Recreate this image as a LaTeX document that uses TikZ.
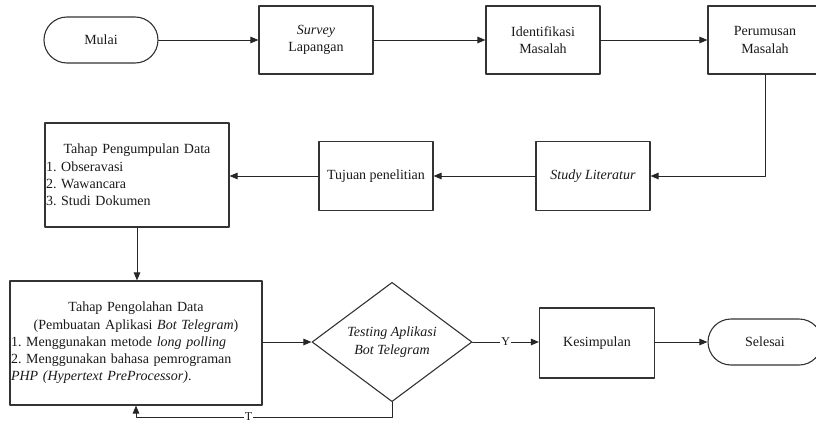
\documentclass[tikz,border=0pt]{standalone}
\usepackage{fontspec}
\setmainfont{Liberation Serif}
\usetikzlibrary{arrows.meta,shapes.geometric}
\frenchspacing

\begin{document}
\begin{tikzpicture}[x=1pt,y=-1pt,line cap=round,line join=round,>={Triangle[length=8pt,width=6.5pt]},
  every node/.style={font=\fontsize{14}{17.3}\selectfont,text=black!90},
  proc/.style={draw=black!80,line width=1.1pt,rectangle,inner sep=1pt,align=center},
  term/.style={draw=black!80,line width=1.1pt,rectangle,rounded corners=23pt,minimum width=114pt,minimum height=46pt},
  decision/.style={draw=black!80,line width=1.1pt,diamond,minimum width=160pt,minimum height=96pt,inner sep=0pt,align=center},
  flow/.style={->,draw=black!85,line width=1pt},
  cond/.style={fill=white,inner sep=1pt,font=\fontsize{12}{12}\selectfont}]
  \useasboundingbox (0,0) rectangle (816,423);
  % baris atas
  \node[term] (mulai) at (101,40) {Mulai};
  \node[proc,minimum width=114pt,minimum height=68pt] (survey) at (316,40) {\textit{Survey}\\Lapangan};
  \node[proc,minimum width=114pt,minimum height=68pt] (identifikasi) at (543,40) {Identifikasi\\Masalah};
  \node[proc,minimum width=114pt,minimum height=68pt] (perumusan) at (765,40) {Perumusan\\Masalah};
  % baris tengah
  \node[proc,minimum width=114pt,minimum height=69pt] (literatur) at (593,176) {\textit{Study Literatur}};
  \node[proc,minimum width=114pt,minimum height=69pt] (tujuan) at (376,176) {Tujuan penelitian};
  \node[proc,align=left,text width=182pt,minimum height=104pt] (kumpul) at (137,175)
    {\makebox[182pt]{Tahap Pengumpulan Data}\\1. Obseravasi\\2. Wawancara\\3. Studi Dokumen};
  % baris bawah
  \node[proc,align=left,text width=250pt,minimum height=124pt] (olah) at (136,343)
    {\makebox[250pt]{Tahap Pengolahan Data}\\\makebox[250pt]{(Pembuatan Aplikasi \textit{Bot Telegram})}\\1. Menggunakan metode \textit{long polling}\\2. Menggunakan bahasa pemrograman\\\textit{PHP (Hypertext PreProcessor)}.\\[10pt]};
  \node[decision] (uji) at (392,342) {\textit{Testing Aplikasi}\\\textit{Bot Telegram}};
  \node[proc,minimum width=115pt,minimum height=70pt] (kesimpulan) at (597,343) {Kesimpulan};
  \node[term] (selesai) at (765,342) {Selesai};
  \coordinate (balik) at (392,417);

  \draw[flow] (mulai) -- (survey);
  \draw[flow] (survey) -- (identifikasi);
  \draw[flow] (identifikasi) -- (perumusan);
  \draw[flow] (perumusan.south) |- (literatur.east);
  \draw[flow] (literatur) -- (tujuan);
  \draw[flow] (tujuan) -- (kumpul.east |- tujuan);
  \draw[flow] (kumpul.south) -- (kumpul.south |- olah.north);
  \draw[flow] (olah.east |- uji) -- (uji.west);
  \draw[flow] (uji.east) -- node[cond] {Y} (kesimpulan.west |- uji);
  \draw[flow] (kesimpulan.east |- selesai) -- (selesai.west);
  \draw[flow] (uji.south) -- (balik) -| node[cond,pos=0.28] {T} (olah.south);
\end{tikzpicture}
\end{document}
